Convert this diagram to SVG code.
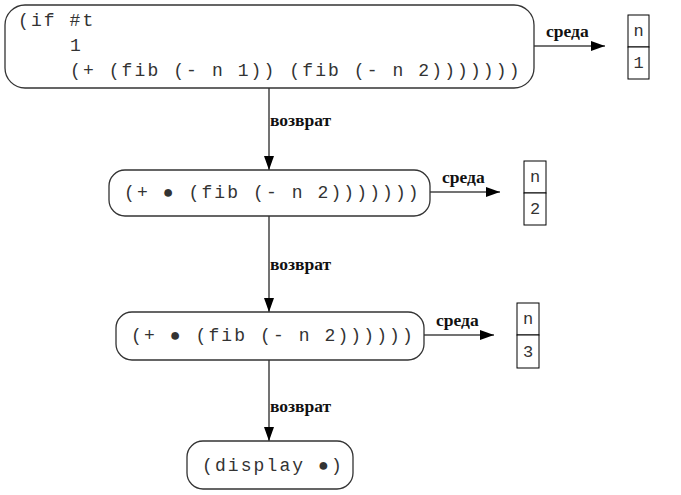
<svg xmlns="http://www.w3.org/2000/svg" width="681" height="495" viewBox="0 0 681 495">
<defs>
<marker id="ah" markerWidth="14" markerHeight="10" refX="14" refY="5" orient="auto" markerUnits="userSpaceOnUse">
<path d="M0,0 L14,5 L0,10 Z" fill="#000"/>
</marker>
<style>
.node{fill:#fff;stroke:#333;stroke-width:1.3}
.code{font-family:"Liberation Mono","Courier New",monospace;font-size:18px;letter-spacing:2.1px;fill:#333}
.env{fill:#fff;stroke:#000;stroke-width:1}
.envt{font-family:"Liberation Mono",monospace;font-size:17px;fill:#333;text-anchor:middle}
.lbl{font-family:"Liberation Serif","DejaVu Serif",serif;font-size:17.5px;font-weight:bold;fill:#111}
.edge{stroke:#444;stroke-width:1.5;fill:none}
</style>
</defs>
<rect width="681" height="495" fill="#fff"/>
<g id="connectors">
<line class="edge" x1="534" y1="46" x2="605" y2="46" marker-end="url(#ah)"/>
<line class="edge" x1="269" y1="88" x2="269" y2="170" marker-end="url(#ah)"/>
<line class="edge" x1="430" y1="192" x2="500" y2="192" marker-end="url(#ah)"/>
<line class="edge" x1="269" y1="216" x2="269" y2="312" marker-end="url(#ah)"/>
<line class="edge" x1="424" y1="335" x2="494" y2="335" marker-end="url(#ah)"/>
<line class="edge" x1="269" y1="360" x2="269" y2="441" marker-end="url(#ah)"/>
<text class="lbl" x="546" y="37">среда</text>
<text class="lbl" x="270" y="126">возврат</text>
<text class="lbl" x="442" y="183">среда</text>
<text class="lbl" x="270" y="270">возврат</text>
<text class="lbl" x="436" y="326">среда</text>
<text class="lbl" x="270" y="412">возврат</text>
</g>
<g id="n1">
<rect class="node" x="5" y="5" width="529" height="83" rx="20"/>
<text class="code" x="18" y="26">(if #t</text>
<text class="code" x="70" y="51">1</text>
<text class="code" x="70" y="76">(+ (fib (- n 1)) (fib (- n 2)))))))</text>
</g>
<g id="env1">
<rect class="env" x="628" y="15" width="21" height="32"/>
<rect class="env" x="628" y="47" width="21" height="32"/>
<text class="envt" x="638.5" y="36">n</text>
<text class="envt" x="638.5" y="68">1</text>
</g>
<g id="n2">
<rect class="node" x="109" y="170" width="321" height="46" rx="16"/>
<text class="code" x="124" y="198">(+ ● (fib (- n 2)))))))</text>
</g>
<g id="env2">
<rect class="env" x="524" y="161" width="22" height="32"/>
<rect class="env" x="524" y="193" width="22" height="32"/>
<text class="envt" x="535" y="182">n</text>
<text class="envt" x="535" y="214">2</text>
</g>
<g id="n3">
<rect class="node" x="116" y="312" width="308" height="48" rx="16"/>
<text class="code" x="131" y="341">(+ ● (fib (- n 2))))))</text>
</g>
<g id="env3">
<rect class="env" x="517" y="303" width="22" height="32"/>
<rect class="env" x="517" y="335" width="22" height="33"/>
<text class="envt" x="528" y="324">n</text>
<text class="envt" x="528" y="357">3</text>
</g>
<g id="n4">
<rect class="node" x="187" y="441" width="166" height="48" rx="16"/>
<text class="code" x="202" y="471">(display ●)</text>
</g>
</svg>
